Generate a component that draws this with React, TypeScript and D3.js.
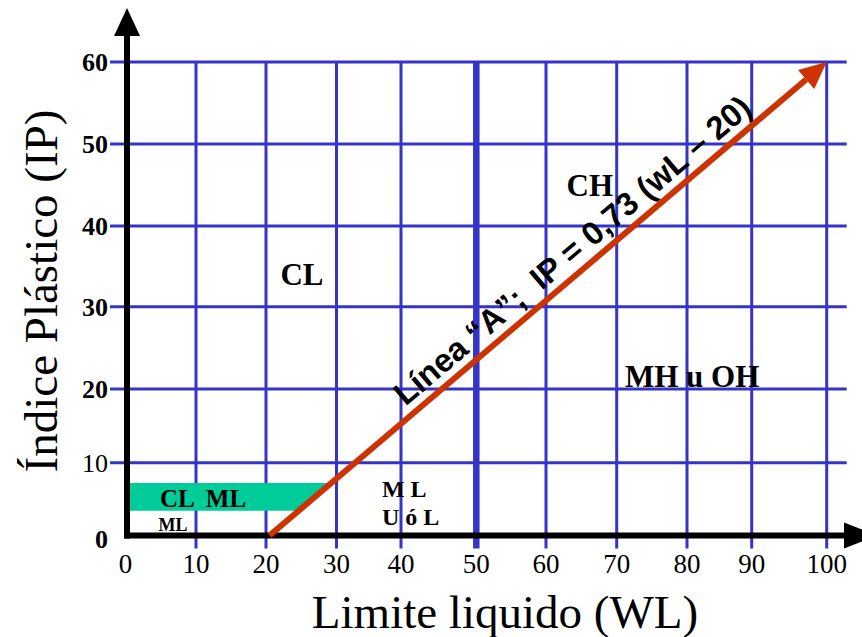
import React from "react";
import * as d3 from "d3";

// ---- data ----
const xTicks = [0, 10, 20, 30, 40, 50, 60, 70, 80, 90, 100];
const yTicks = [0, 10, 20, 30, 40, 50, 60];
const gridX = [10, 20, 30, 40, 60, 70, 80, 90, 100];
const gridY = [10, 20, 30, 40, 50, 60];
const thickX = [50];
const lineA = [
  { wl: 20.5, ip: 0 },
  { wl: 100, ip: 60 },
];
const bandLow = 3.4;
const bandHigh = 7.2;
const regionLabels = [
  { text: "CL", wl: 25.1, ip: 32.7, size: 31, anchor: "middle" },
  { text: "CH", wl: 66.2, ip: 43.6, size: 31, anchor: "middle" },
  { text: "MH u OH", wl: 80.8, ip: 20.3, size: 31, anchor: "middle" },
  { text: "M L", wl: 37.05, ip: 5.25, size: 24, anchor: "start" },
  { text: "U ó L", wl: 37.05, ip: 1.44, size: 24, anchor: "start" },
  { text: "CL  ML", wl: 11, ip: 3.96, size: 25, anchor: "middle" },
  { text: "ML", wl: 6.67, ip: 0.66, size: 18, anchor: "middle" },
];
const lineLabel = "Línea “A”;  IP = 0,73 (wL – 20)";
const xTitle = "Limite liquido (WL)";
const yTitle = "Índice Plástico (IP)";

// ---- layout ----
const W = 862;
const H = 637;
const xRange = [127, 196, 266, 336.5, 401, 476.3, 546, 616.7, 687, 751.7, 826.7];
const yRange = [535.5, 462.7, 389, 306.7, 226, 144, 62];
const BLUE = "#3434C8";
const RED = "#CC3300";
const GREEN = "#00CC99";
const SERIF = "'Liberation Serif', 'Times New Roman', serif";
const SANS = "'Liberation Sans', Arial, sans-serif";

export default function App() {
  const x = d3.scaleLinear().domain(xTicks).range(xRange);
  const y = d3.scaleLinear().domain(yTicks).range(yRange);

  const x0 = x(0);
  const y0 = y(0);
  const gridTop = y(60);
  const gridBottom = y0 + 13;
  const gridLeft = x0 - 17;
  const gridRight = x(100) + 20;

  // line A in pixels
  const p0 = [x(lineA[0].wl), y(lineA[0].ip)];
  const p1 = [x(lineA[1].wl), y(lineA[1].ip)];
  const dx = p1[0] - p0[0];
  const dy = p1[1] - p0[1];
  const len = Math.hypot(dx, dy);
  const ux = dx / len;
  const uy = dy / len;
  const nx = -uy;
  const ny = ux;
  const headLen = 27;
  const headHalf = 12.5;
  const lineEnd = [p1[0] - ux * headLen, p1[1] - uy * headLen];
  const head = [
    [p1[0], p1[1]],
    [lineEnd[0] + nx * headHalf, lineEnd[1] + ny * headHalf],
    [lineEnd[0] - nx * headHalf, lineEnd[1] - ny * headHalf],
  ];
  const angle = (Math.atan2(dy, dx) * 180) / Math.PI;
  const xAtY = (py: number) => p0[0] + ((py - p0[1]) / dy) * dx;

  // band polygon
  const bt = y(bandHigh);
  const bb = y(bandLow);
  const band = [
    [x0, bt],
    [xAtY(bt), bt],
    [xAtY(bb), bb],
    [x0, bb],
  ];

  // label along line, offset to the upper-left side
  const t = 0.568;
  const off = 10;
  const sgn = ny < 0 ? 1 : -1;
  const lx = p0[0] + dx * t + nx * off * sgn;
  const ly = p0[1] + dy * t + ny * off * sgn;

  const line = d3.line<number[]>().x((d) => d[0]).y((d) => d[1]);

  return (
    <svg
      width={W}
      height={H}
      style={{ position: "absolute", left: 0, top: 0, display: "block", background: "#fff" }}
    >
      <rect x={0} y={0} width={W} height={H} fill="#fff" />
      {gridY.map((v) => (
        <line key={"gy" + v} x1={gridLeft} x2={gridRight} y1={y(v)} y2={y(v)} stroke={BLUE} strokeWidth={3} />
      ))}
      {gridX.map((v) => (
        <line key={"gx" + v} x1={x(v)} x2={x(v)} y1={gridTop} y2={gridBottom} stroke={BLUE} strokeWidth={3} />
      ))}
      <path d={line(band as number[][])! + "Z"} fill={GREEN} />
      {thickX.map((v) => (
        <line key={"tx" + v} x1={x(v)} x2={x(v)} y1={gridTop - 1} y2={gridBottom} stroke={BLUE} strokeWidth={6.5} />
      ))}
      <line x1={x0} x2={x0} y1={30} y2={y0 + 3} stroke="#000" strokeWidth={6} />
      <path d={`M${x0},8 L${x0 - 13},36 L${x0 + 13},36 Z`} fill="#000" />
      <line x1={x0 - 3} x2={846} y1={y0} y2={y0} stroke="#000" strokeWidth={6} />
      <path d={`M878,${y0} L844,${y0 - 13} L844,${y0 + 13} Z`} fill="#000" />
      <path d={line([p0, lineEnd])!} stroke={RED} strokeWidth={6} fill="none" />
      <path d={line(head)! + "Z"} fill={RED} />
      {xTicks.map((v) => (
        <text key={"xt" + v} x={x(v) - (v === 0 ? 1.5 : 0)} y={573} textAnchor="middle" fontFamily={SERIF} fontSize={27}>
          {v}
        </text>
      ))}
      {yTicks.map((v) => (
        <text
          key={"yt" + v}
          x={108}
          y={y(v) + (v === 0 ? 12 : 9)}
          textAnchor="end"
          fontFamily={SERIF}
          fontSize={26}
          fontWeight={v === 10 ? "normal" : "bold"}
        >
          {v}
        </text>
      ))}
      <text x={505} y={628} textAnchor="middle" fontFamily={SERIF} fontSize={47}>
        {xTitle}
      </text>
      <text transform={`translate(57,291) rotate(-90)`} textAnchor="middle" fontFamily={SERIF} fontSize={47}>
        {yTitle}
      </text>
      {regionLabels.map((r) => (
        <text
          key={r.text + r.wl}
          x={x(r.wl)}
          y={y(r.ip)}
          textAnchor={r.anchor as any}
          fontFamily={SERIF}
          fontWeight="bold"
          fontSize={r.size}
          style={{ whiteSpace: "pre" }}
        >
          {r.text}
        </text>
      ))}
      <text
        transform={`translate(${lx},${ly}) rotate(${angle})`}
        textAnchor="middle"
        fontFamily={SANS}
        fontWeight="bold"
        fontSize={32.5}
        style={{ whiteSpace: "pre" }}
      >
        {lineLabel}
      </text>
    </svg>
  );
}
